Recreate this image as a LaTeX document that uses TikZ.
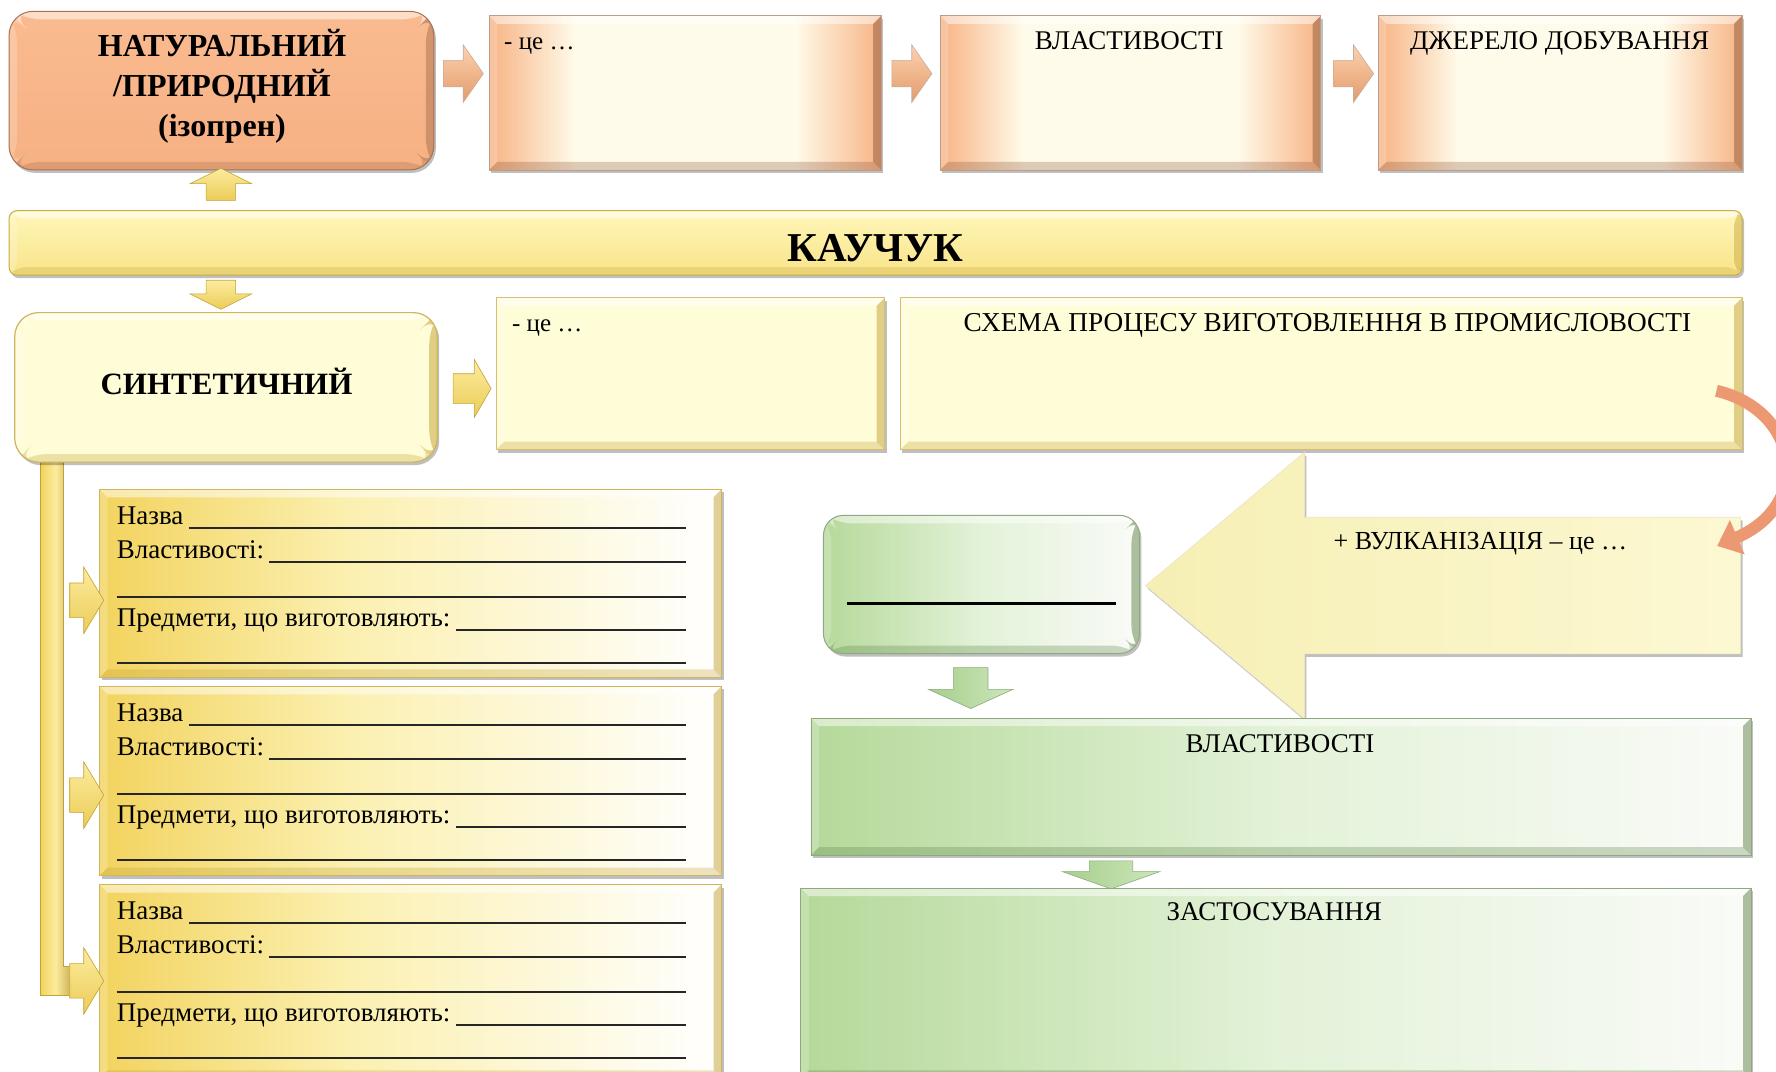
\documentclass[tikz,border=0pt]{standalone}
\usepackage{fontspec}
\setmainfont{Liberation Serif}
\usetikzlibrary{shapes.arrows,fit,arrows.meta,shadows}

\definecolor{peachE}{HTML}{F7B384}
\definecolor{peachC}{HTML}{FFFBEA}
\definecolor{peachD}{HTML}{8F5A3C}
\definecolor{peachL}{HTML}{FCD2AE}
\definecolor{peachK}{HTML}{E39A6C}
\definecolor{natT}{HTML}{FABB90}
\definecolor{natB}{HTML}{F6B083}
\definecolor{natD}{HTML}{A8714F}
\definecolor{barT}{HTML}{FFF6BA}
\definecolor{barB}{HTML}{F8E488}
\definecolor{barD}{HTML}{C9AC45}
\definecolor{creamY}{HTML}{FFFCD8}
\definecolor{goldD}{HTML}{C3A232}
\definecolor{goldM}{HTML}{F2D35E}
\definecolor{goldL}{HTML}{FCEC9E}
\definecolor{goldP}{HTML}{FBF0B0}
\definecolor{grnL}{HTML}{B5D99A}
\definecolor{grnM}{HTML}{E3F2D8}
\definecolor{grnW}{HTML}{FAFBF8}
\definecolor{grnD}{HTML}{5E8449}
\definecolor{grnA}{HTML}{A6CF8B}
\definecolor{grnAL}{HTML}{CDE6BA}
\definecolor{bigL}{HTML}{F6EFB4}
\definecolor{bigR}{HTML}{FCF8D2}
\definecolor{curveC}{HTML}{EC9873}

% horizontal fills: edges mapped to 25bp and 75bp
\pgfdeclarehorizontalshading{peachsh}{100bp}{color(0bp)=(peachE); color(25bp)=(peachE); color(36bp)=(peachC); color(64bp)=(peachC); color(75bp)=(peachE); color(100bp)=(peachE)}
\pgfdeclarehorizontalshading{goldsh}{100bp}{color(0bp)=(goldM); color(25bp)=(goldM); color(45bp)=(goldP); color(75bp)=(white); color(100bp)=(white)}
\pgfdeclarehorizontalshading{greensh}{100bp}{color(0bp)=(grnL); color(25bp)=(grnL); color(50bp)=(grnM); color(75bp)=(grnW); color(100bp)=(grnW)}

\def\bevw{8pt}

\tikzset{
  bevel/.style={path picture={
    \coordinate (q1) at (path picture bounding box.north west);
    \coordinate (q2) at (path picture bounding box.north east);
    \coordinate (q3) at (path picture bounding box.south east);
    \coordinate (q4) at (path picture bounding box.south west);
    \fill[white,opacity=.5] (q1) -- (q2) -- ([shift={(-\bevw,-\bevw)}]q2) -- ([shift={(\bevw,-\bevw)}]q1) -- cycle;
    \fill[white,opacity=.2] (q1) -- ([shift={(\bevw,-\bevw)}]q1) -- ([shift={(\bevw,\bevw)}]q4) -- (q4) -- cycle;
    \fill[#1,opacity=.3] (q4) -- (q3) -- ([shift={(-\bevw,\bevw)}]q3) -- ([shift={(\bevw,\bevw)}]q4) -- cycle;
    \fill[#1,opacity=.5] (q3) -- (q2) -- ([shift={(-\bevw,-\bevw)}]q2) -- ([shift={(-\bevw,\bevw)}]q3) -- cycle;
  }},
  bevel/.default=black,
  softshadow/.style={drop shadow={shadow xshift=2pt, shadow yshift=-3pt, opacity=.25, fill=black}},
  peachbox/.style={shade, shading=peachsh, draw=peachD!60, line width=.8pt, bevel=peachD, softshadow},
  natbox/.style={rounded corners=24pt, top color=natT, bottom color=natB, draw=natD, line width=1pt, bevel=natD, softshadow},
  kaubar/.style={rounded corners=8pt, top color=barT, bottom color=barB, draw=barD, line width=1pt, bevel=barD, softshadow},
  synbox/.style={rounded corners=24pt, fill=creamY, draw=goldD!80, line width=1.2pt, bevel=goldD, softshadow},
  creambox/.style={fill=creamY, draw=goldD!70, line width=.8pt, bevel=goldD, softshadow},
  goldbox/.style={shade, shading=goldsh, draw=goldD!80, line width=.8pt, bevel=goldD, softshadow},
  greenbox/.style={shade, shading=greensh, draw=grnD!70, line width=.8pt, bevel=grnD, softshadow},
  greenround/.style={rounded corners=20pt, shade, shading=greensh, draw=grnD!70, line width=1pt, bevel=grnD, softshadow},
  % block arrows: shaft half width set through the inner separation across the arrow
  hblk/.style={single arrow, inner xsep=0pt, inner ysep=#1, line width=.6pt},
  vblk/.style={single arrow, inner ysep=0pt, inner xsep=#1, line width=.6pt},
  pcol/.style={top color=peachL, bottom color=peachK, draw=peachD!50},
  gcol/.style={top color=goldL, bottom color=goldM!85!goldD, draw=goldD},
  grcol/.style={left color=grnA, right color=grnAL, draw=grnD!70},
  parrow/.style={hblk=13pt, pcol, single arrow head extend=15.5pt, single arrow tip angle=110, minimum height=40pt},
  lbl/.style={font=\fontsize{27}{32}\selectfont},
  hdr/.style={font=\fontsize{27}{32}\selectfont},
  rule/.style={line width=2pt, black!85},
}

\begin{document}
\begin{tikzpicture}[x=1.1327pt, y=-1.1327pt, every node/.style={inner sep=0pt}]
\useasboundingbox (0,0) rectangle (1568,946);
\fill[white] (0,0) rectangle (1568,946);

% ---------- natural rubber row ----------
\node[natbox, fit={(8,10)(383,150)}] (nat) {};
\node[font=\fontsize{32}{40}\selectfont\bfseries, align=center] (natT) at (196,76)
  {НАТУРАЛЬНИЙ\\/ПРИРОДНИЙ\\(ізопрен)};

\node[peachbox, fit={(432,14)(778,150)}] (ce1) {};
\node[anchor=base west, font=\fontsize{25}{30}\selectfont] (ce1T) at (445,44) {- це …};
\node[peachbox, fit={(830,14)(1166,150)}] (prop1) {};
\node[hdr, anchor=base] (prop1T) at (997,44) {ВЛАСТИВОСТІ};
\node[peachbox, fit={(1217,14)(1538,150)}] (src) {};
\node[hdr, anchor=base] (srcT) at (1377,44) {ДЖЕРЕЛО ДОБУВАННЯ};

\node[parrow] (pa1) at (405,65) {};
\node[parrow] (pa2) at (801,65) {};
\node[parrow] (pa3) at (1191,65) {};

% ---------- central bar ----------
\node[kaubar, fit={(8,186)(1538,243)}] (kau) {};
\node[font=\fontsize{41}{48}\selectfont\bfseries, anchor=base] (kauT) at (773,231) {КАУЧУК};

\node[vblk=14.5pt, gcol, shape border rotate=90, single arrow head extend=16pt, single arrow tip angle=127,
      minimum height=32pt] (up) at (195,166) {};
\node[vblk=14.5pt, gcol, shape border rotate=270, single arrow head extend=16pt, single arrow tip angle=127,
      minimum height=29pt] (down) at (195,257) {};

% ---------- synthetic branch ----------
\shade[left color=goldM, right color=goldD!80, middle color=goldL, draw=goldD, line width=.6pt]
  (36,400) -- (56,400) -- (56,853) -- (62,853) -- (62,879) -- (36,879) -- cycle;

\node[synbox, fit={(13,276)(386,408)}] (syn) {};
\node[font=\fontsize{31}{37}\selectfont\bfseries, anchor=base] (synT) at (200,348) {СИНТЕТИЧНИЙ};

\node[creambox, fit={(438,263)(781,397)}] (ce2) {};
\node[anchor=base west, font=\fontsize{25}{30}\selectfont] (ce2T) at (452,293) {- це …};
\node[creambox, fit={(795,263)(1538,397)}] (sch) {};
\node[font=\fontsize{27.3}{32}\selectfont, anchor=base] (schT) at (1172,293) {СХЕМА ПРОЦЕСУ ВИГОТОВЛЕННЯ В ПРОМИСЛОВОСТІ};

\node[hblk=14.5pt, gcol, single arrow head extend=14pt, single arrow tip angle=120,
      minimum height=38pt] (sa) at (413,343) {};

% ---------- kinds of synthetic rubber ----------
\foreach \n/\t/\b in {A/432/598, B/606/773, C/781/952} {
  \node[goldbox, fit={(88,\t)(637,\b)}] (box\n) {};
  \coordinate (re\n) at (606,\t);
  \node[lbl, anchor=base west] (nm\n) at (103,\t+31) {Назва};
  \node[lbl, anchor=base west] (pr\n) at (103,\t+61) {Властивості:};
  \node[lbl, anchor=base west] (it\n) at (103,\t+121) {Предмети, що виготовляють:};
  \path ([shift={(5pt,-3.5pt)}]nm\n.base east) coordinate (s1\n);
  \path ([shift={(5pt,-3.5pt)}]pr\n.base east) coordinate (s2\n);
  \path ([shift={(5pt,-3.5pt)}]it\n.base east) coordinate (s3\n);
  \draw[rule] (s1\n) -- (s1\n -| re\n);
  \draw[rule] (s2\n) -- (s2\n -| re\n);
  \draw[rule] (103,\t+95) -- (re\n |- 0,\t+95);
  \draw[rule] (s3\n) -- (s3\n -| re\n);
  \draw[rule] (103,\t+153) -- (re\n |- 0,\t+153);
}

\foreach \k/\y in {a/530, b/702, c/866} {
  \node[hblk=17pt, gcol, single arrow head extend=16pt, single arrow tip angle=118,
        minimum height=34pt] (k\k) at (72,\y) {};
}

% ---------- vulcanisation ----------
\node[hblk=68pt, shape border rotate=180, single arrow head extend=65pt, single arrow tip angle=80,
      minimum height=595pt, left color=bigL, right color=bigR,
      draw=goldD!30, softshadow] (vul) at (1310,517) {};
\node[font=\fontsize{26}{30}\selectfont, anchor=base] (vulT) at (1307,485) {+ ВУЛКАНІЗАЦІЯ – це …};

\node[greenround, fit={(727,455)(1006,577)}] (res) {};
\draw[line width=3pt] (748,533) -- (985,533);

\node[vblk=17pt, grcol, shape border rotate=270, single arrow head extend=25pt, single arrow tip angle=131,
      minimum height=41pt] (ga1) at (857,604) {};

\node[greenbox, fit={(716,634)(1546,755)}] (prop2) {};
\node[hdr, anchor=base] (prop2T) at (1130,664) {ВЛАСТИВОСТІ};

\node[vblk=21.5pt, grcol, shape border rotate=270, single arrow head extend=27pt, single arrow tip angle=141,
      minimum height=28pt] (ga2) at (981,769) {};

\node[greenbox, fit={(707,784)(1546,952)}] (app) {};
\node[hdr, anchor=base] (appT) at (1125,813) {ЗАСТОСУВАННЯ};

% curved arrow from the process scheme to vulcanisation
\draw[line width=12pt, curveC, -{Triangle[length=22pt, width=36pt]}]
  (sch.east |- 0,345) ++(-26pt,0) .. controls (1588,362) and (1602,445) .. (1516,482);
\end{tikzpicture}
\end{document}
